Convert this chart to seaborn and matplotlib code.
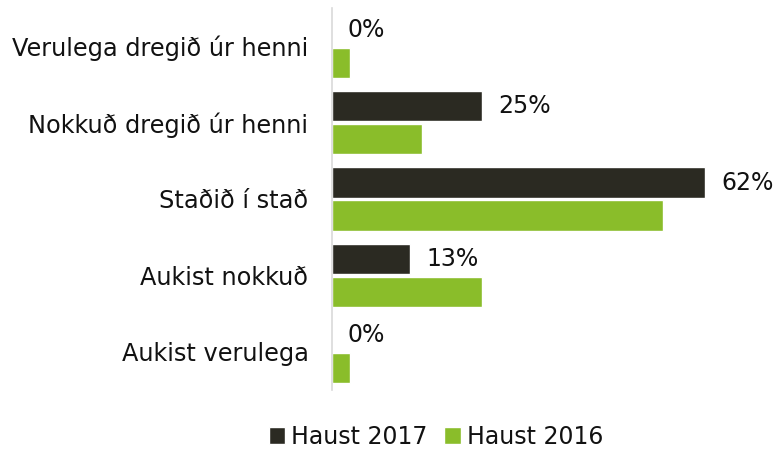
import pandas as pd
import matplotlib
matplotlib.use("Agg")
import matplotlib.pyplot as plt
import seaborn as sns

# Data
categories = ["Verulega dregið úr henni", "Nokkuð dregið úr henni", "Staðið í stað",
              "Aukist nokkuð", "Aukist verulega"]
haust_2017 = [0, 25, 62, 13, 0]
haust_2016 = [3, 15, 55, 25, 3]
series_names = ["Haust 2017", "Haust 2016"]
colors = ["#2b2a22", "#8abd2a"]

df = pd.DataFrame({
    "flokkur": categories * 2,
    "hlutfall": haust_2017 + haust_2016,
    "ar": [series_names[0]] * len(categories) + [series_names[1]] * len(categories),
})

sns.set_style("white")
plt.rcParams["font.family"] = ["DejaVu Sans"]

fig = plt.figure(figsize=(7.77, 4.5), dpi=100)
ax = fig.add_axes([332 / 777, 1 - 390 / 450, 1 - 332 / 777, (390 - 8) / 450])

sns.barplot(data=df, x="hlutfall", y="flokkur", hue="ar", orient="h",
            palette=colors, width=0.86, gap=0.08, ax=ax, saturation=1)

# value labels only for 2017
ax.bar_label(ax.containers[0], labels=[f"{v}%" for v in haust_2017],
             padding=11.5, fontsize=17, color="#111111")

ax.set_xlim(0, (777 - 332) / 6.016)
ax.set_xlabel("")
ax.set_ylabel("")
ax.set_xticks([])
ax.tick_params(axis="y", length=0, pad=17, labelsize=17.3, labelcolor="#111111")
for side in ["top", "right", "bottom"]:
    ax.spines[side].set_visible(False)
ax.spines["left"].set_color("#d9d9d9")
ax.spines["left"].set_linewidth(1.2)

handles, labels = ax.get_legend_handles_labels()
ax.get_legend().remove()
fig.legend(handles, labels, loc="center", bbox_to_anchor=(436 / 777, 1 - 437 / 450),
           ncol=2, frameon=False, fontsize=17, handlelength=0.7, handleheight=0.7,
           handletextpad=0.25, columnspacing=0.7, labelcolor="#111111",
           borderpad=0.2)

fig.savefig("out.png", dpi=100)
plt.close()
